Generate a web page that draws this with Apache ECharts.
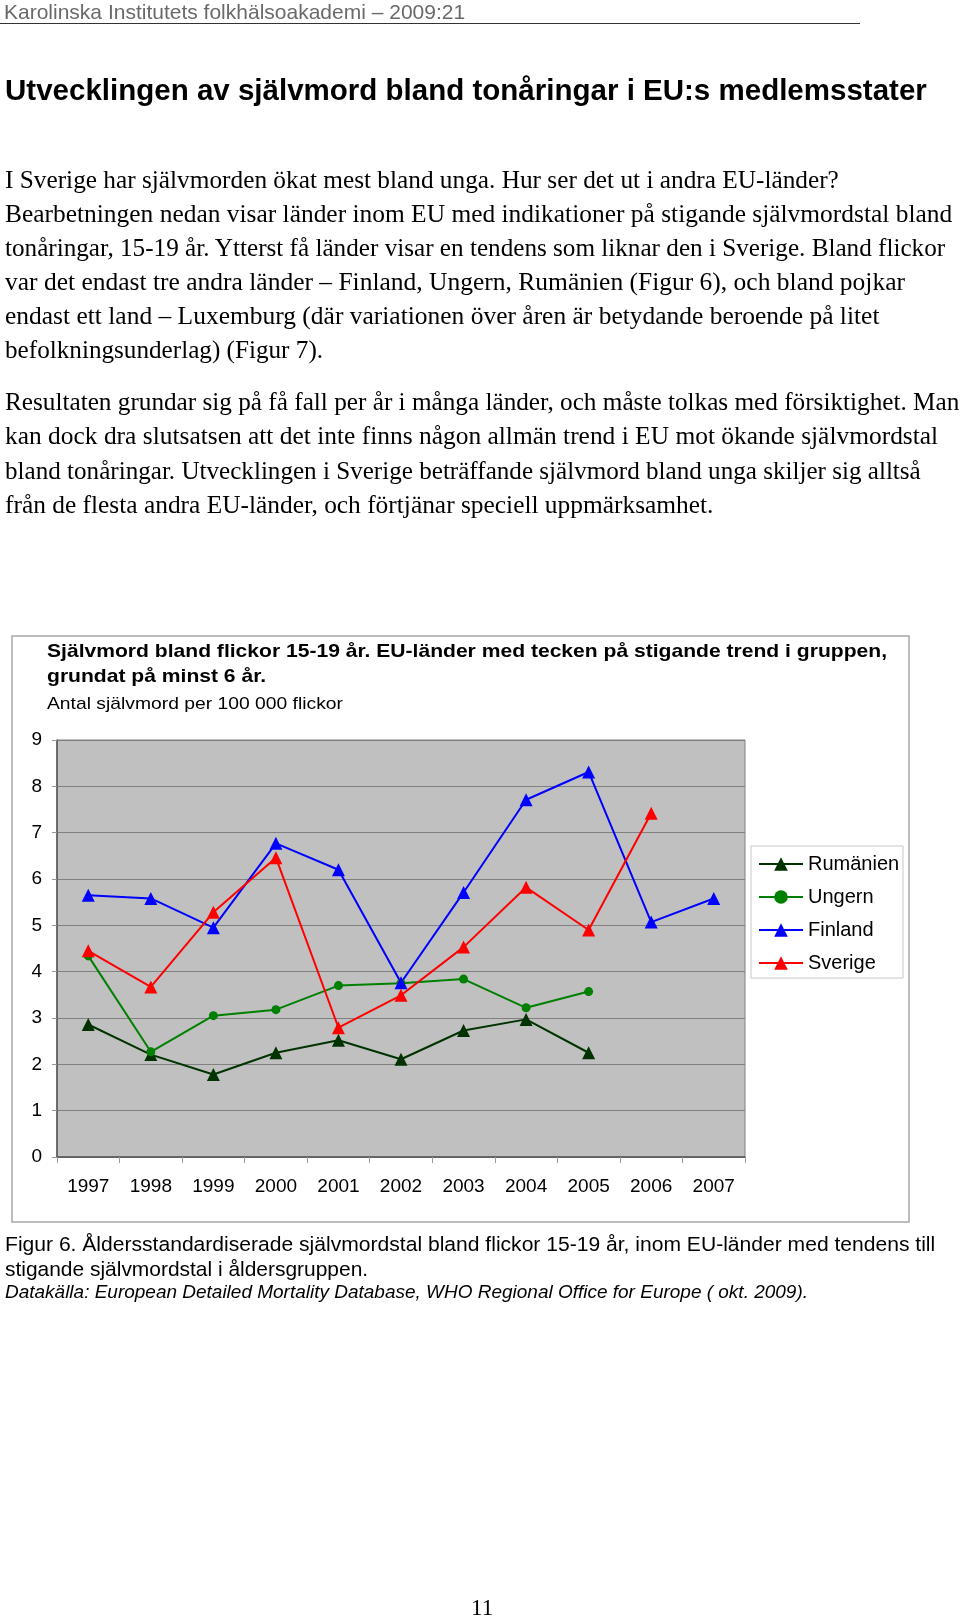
<!DOCTYPE html>
<html>
<head>
<meta charset="utf-8">
<script src="https://cdn.jsdelivr.net/npm/echarts@6/dist/echarts.min.js"></script>
<style>
html,body{margin:0;padding:0;background:#fff;}
body{width:960px;height:1620px;position:relative;overflow:hidden;}
#chart{position:absolute;left:0;top:0;width:960px;height:1620px;}
.t{position:absolute;white-space:nowrap;transform-origin:0 50%;}
</style>
</head>
<body>
<div id="chart"></div>
<script>
// ---- data ----
const years = ['1997','1998','1999','2000','2001','2002','2003','2004','2005','2006','2007'];
const rumanien = [2.86, 2.21, 1.78, 2.25, 2.52, 2.11, 2.73, 2.97, 2.25, null, null];
const ungern   = [4.34, 2.27, 3.05, 3.18, 3.70, 3.75, 3.84, 3.22, 3.57, null, null];
const finland  = [5.65, 5.58, 4.95, 6.77, 6.20, 3.76, 5.71, 7.71, 8.31, 5.07, 5.58];
const sverige  = [4.45, 3.67, 5.28, 6.46, 2.79, 3.49, 4.53, 5.82, 4.90, 7.42, null];
const seriesNames = ['Rumänien','Ungern','Finland','Sverige'];
const yTicks = [0,1,2,3,4,5,6,7,8,9];

const chartTitle1 = 'Självmord bland flickor 15-19 år. EU-länder med tecken på stigande trend i gruppen,';
const chartTitle2 = 'grundat på minst 6 år.';
const chartSubtitle = 'Antal självmord per 100 000 flickor';

const headerText = 'Karolinska Institutets folkhälsoakademi – 2009:21';
const pageTitle = 'Utvecklingen av självmord bland tonåringar i EU:s medlemsstater';
const para1 = [
 'I Sverige har självmorden ökat mest bland unga. Hur ser det ut i andra EU-länder?',
 'Bearbetningen nedan visar länder inom EU med indikationer på stigande självmordstal bland',
 'tonåringar, 15-19 år. Ytterst få länder visar en tendens som liknar den i Sverige. Bland flickor',
 'var det endast tre andra länder – Finland, Ungern, Rumänien (Figur 6), och bland pojkar',
 'endast ett land – Luxemburg (där variationen över åren är betydande beroende på litet',
 'befolkningsunderlag) (Figur 7).'
];
const para2 = [
 'Resultaten grundar sig på få fall per år i många länder, och måste tolkas med försiktighet. Man',
 'kan dock dra slutsatsen att det inte finns någon allmän trend i EU mot ökande självmordstal',
 'bland tonåringar. Utvecklingen i Sverige beträffande självmord bland unga skiljer sig alltså',
 'från de flesta andra EU-länder, och förtjänar speciell uppmärksamhet.'
];
const caption1 = 'Figur 6. Åldersstandardiserade självmordstal bland flickor 15-19 år, inom EU-länder med tendens till';
const caption2 = 'stigande självmordstal i åldersgruppen.';
const caption3 = 'Datakälla: European Detailed Mortality Database, WHO Regional Office for Europe ( okt. 2009).';
const pageNo = '11';

// ---- page text layout ----
const SANS = '"Liberation Sans", Arial, sans-serif';
const SERIF = '"Liberation Serif", "Times New Roman", serif';
const mctx = document.createElement('canvas').getContext('2d');
function measure(text, font){ mctx.font = font; return mctx.measureText(text).width; }

function place(text, o){
  const d = document.createElement('div');
  d.className = 't';
  d.textContent = text;
  const lh = Math.round(o.size*1.3);
  d.style.fontFamily = o.font;
  d.style.fontSize = o.size+'px';
  d.style.lineHeight = lh+'px';
  d.style.color = o.color || '#000';
  if (o.bold) d.style.fontWeight = 'bold';
  if (o.italic) d.style.fontStyle = 'italic';
  d.style.left = o.x+'px';
  d.style.top = (o.cy - lh/2)+'px';
  d.style.zIndex = 5;
  document.body.appendChild(d);
  if (o.fitSize && o.target){
    const w = d.offsetWidth;
    const ns = o.size*o.target/w;
    const nlh = Math.round(ns*1.3);
    d.style.fontSize = ns+'px';
    d.style.lineHeight = nlh+'px';
    d.style.top = (o.cy - nlh/2)+'px';
  } else if (o.target){
    const w = d.offsetWidth;
    d.style.transform = 'scaleX('+(o.target/w)+')';
  }
  return d;
}
place(headerText,{font:SANS,size:19,color:'#6a6a6a',x:4,cy:11,target:461,fitSize:true});
const hr = document.createElement('div');
hr.style.cssText='position:absolute;left:0;top:23px;width:860px;height:0;border-top:1px solid #333;z-index:5';
document.body.appendChild(hr);
place(pageTitle,{font:SANS,size:26,bold:true,x:5,cy:90,target:922,fitSize:true});

const p1cy = [179,213,247,281,315,349];
const p1w = [834,947,940,900,874,318];
const p2cy = [401,435,470,504];
const p2w = [954,933,916,708];
(function(){
  let ratio = 0, n = 0;
  [[para1,p1w],[para2,p2w]].forEach(([L,W])=>L.forEach((s,i)=>{ if(W[i]>600){ratio += W[i]/measure(s,'22px '+SERIF); n++;} }));
  const size = 22*ratio/n;
  para1.forEach((s,i)=>place(s,{font:SERIF,size:size,x:5,cy:p1cy[i],target:p1w[i]}));
  para2.forEach((s,i)=>place(s,{font:SERIF,size:size,x:5,cy:p2cy[i],target:p2w[i]}));
})();

place(caption1,{font:SANS,size:19,x:5,cy:1243,target:931,fitSize:true});
place(caption2,{font:SANS,size:19,x:5,cy:1268,target:364,fitSize:true});
place(caption3,{font:SANS,size:18,italic:true,x:5,cy:1291,target:803,fitSize:true});
place(pageNo,{font:SERIF,size:23,x:471,cy:1608});

// ---- chart ----
const chart = echarts.init(document.getElementById('chart'), null, {renderer:'canvas'});
const colors = {Rumänien:'#003300', Ungern:'#008000', Finland:'#0000ff', Sverige:'#ff0000'};
const symbols = {Rumänien:'triangle', Ungern:'circle', Finland:'triangle', Sverige:'triangle'};
const sizes = {Rumänien:13, Ungern:9, Finland:13, Sverige:13};
const dataMap = {Rumänien:rumanien, Ungern:ungern, Finland:finland, Sverige:sverige};

const titleFont = 'bold 18.5px '+SANS;
const subFont = '17px '+SANS;
const tScale = 840/measure(chartTitle1, titleFont);
const sScale = 296/measure(chartSubtitle, subFont);

chart.setOption({
  animation:false,
  textStyle:{fontFamily:SANS},
  graphic:[
    {type:'rect', z:-10, shape:{x:12,y:636,width:897,height:586}, style:{fill:'#fff', stroke:'#a8a8a8', lineWidth:1.5}},
    {type:'rect', z:-5, shape:{x:751,y:846,width:152,height:132}, style:{fill:'#fff', stroke:'#c8c8c8', lineWidth:1}},
    {type:'text', z:10, x:47, y:652, scaleX:tScale, style:{text:chartTitle1, font:titleFont, fill:'#000', textAlign:'left', textVerticalAlign:'middle', verticalAlign:'middle'}},
    {type:'text', z:10, x:47, y:677, scaleX:tScale, style:{text:chartTitle2, font:titleFont, fill:'#000', textAlign:'left', textVerticalAlign:'middle', verticalAlign:'middle'}},
    {type:'text', z:10, x:47, y:704, scaleX:sScale, style:{text:chartSubtitle, font:subFont, fill:'#000', textAlign:'left', textVerticalAlign:'middle', verticalAlign:'middle'}}
  ],
  legend:{
    data:seriesNames, orient:'vertical', left:758, top:854, padding:0,
    itemWidth:44, itemHeight:17, itemGap:13,
    textStyle:{fontFamily:SANS, fontSize:20, lineHeight:20, color:'#000'}
  },
  grid:{left:57, top:740, width:688, height:417, show:true, backgroundColor:'#c0c0c0', borderColor:'#808080', borderWidth:1},
  xAxis:{
    type:'category', data:years, boundaryGap:true,
    axisLine:{show:true, lineStyle:{color:'#555', width:1.5}},
    axisTick:{show:true, alignWithLabel:false, length:6, lineStyle:{color:'#999'}},
    axisLabel:{fontFamily:SANS, fontSize:19, color:'#000', margin:20},
    splitLine:{show:false}
  },
  yAxis:{
    type:'value', min:yTicks[0], max:yTicks[yTicks.length-1], interval:1,
    axisLine:{show:true, lineStyle:{color:'#555', width:1.5}},
    axisTick:{show:true, length:5, lineStyle:{color:'#999'}},
    axisLabel:{fontFamily:SANS, fontSize:19, color:'#000', margin:15},
    splitLine:{show:true, lineStyle:{color:'#808080', width:1}}
  },
  series: seriesNames.map(n=>({
    name:n, type:'line', data:dataMap[n],
    connectNulls:false,
    symbol:symbols[n], symbolSize:sizes[n], showAllSymbol:true,
    itemStyle:{color:colors[n]},
    lineStyle:{color:colors[n], width:2},
    emphasis:{disabled:true}
  }))
});
</script>
</body>
</html>
